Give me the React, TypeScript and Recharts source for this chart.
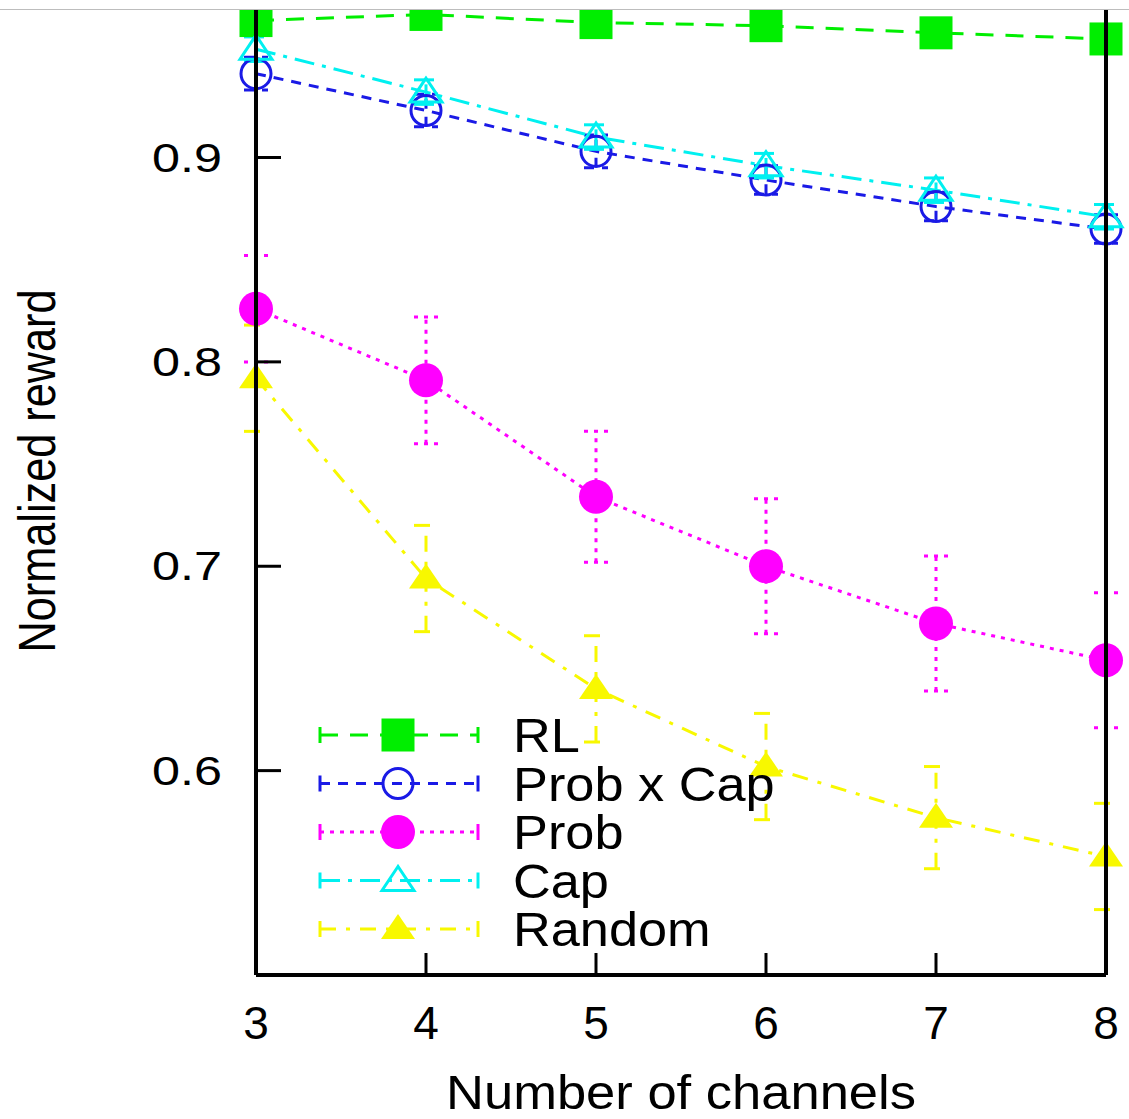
import { LineChart, Line, XAxis, YAxis, ErrorBar, Legend } from 'recharts'

const channels = [3, 4, 5, 6, 7, 8]

const rlValues = [0.967, 0.970, 0.966, 0.9645, 0.961, 0.958]
const rlErrors = [0.002, 0.002, 0.002, 0.002, 0.002, 0.002]

const probCapValues = [0.941, 0.923, 0.903, 0.889, 0.876, 0.865]
const probCapErrors = [0.008, 0.008, 0.008, 0.007, 0.007, 0.007]

const probValues = [0.826, 0.791, 0.734, 0.700, 0.672, 0.654]
const probErrors = [0.026, 0.031, 0.032, 0.033, 0.033, 0.033]

const capValues = [0.953, 0.932, 0.910, 0.896, 0.884, 0.871]
const capErrors = [0.006, 0.006, 0.006, 0.006, 0.006, 0.006]

const randomValues = [0.792, 0.694, 0.640, 0.602, 0.577, 0.558]
const randomErrors = [0.026, 0.026, 0.026, 0.026, 0.025, 0.026]

const yTicks = [0.6, 0.7, 0.8, 0.9]

const FONT = '"Liberation Sans", Arial, Helvetica, sans-serif'

type MarkerKind = 'square' | 'circleOpen' | 'circle' | 'triangleOpen' | 'triangle'

type SeriesStyle = {
  key: string
  name: string
  color: string
  dash: string
  errDash: string
  marker: MarkerKind
}

const series: SeriesStyle[] = [
  { key: 'rl', name: 'RL', color: '#00ee00', dash: '18 12', errDash: '8 6', marker: 'square' },
  { key: 'probCap', name: 'Prob x Cap', color: '#1a1ae6', dash: '10 8', errDash: '10 8', marker: 'circleOpen' },
  { key: 'prob', name: 'Prob', color: '#ff00ff', dash: '4 6', errDash: '4 6', marker: 'circle' },
  { key: 'cap', name: 'Cap', color: '#00f0f0', dash: '20 8 4 8', errDash: '20 8 4 8', marker: 'triangleOpen' },
  { key: 'random', name: 'Random', color: '#f8f800', dash: '16 10 4 10', errDash: '16 10 4 10', marker: 'triangle' },
]

const data = channels.map((c, i) => ({
  channels: c,
  rl: rlValues[i],
  rlErr: rlErrors[i],
  probCap: probCapValues[i],
  probCapErr: probCapErrors[i],
  prob: probValues[i],
  probErr: probErrors[i],
  cap: capValues[i],
  capErr: capErrors[i],
  random: randomValues[i],
  randomErr: randomErrors[i],
}))

const chartMargin = { top: 24, right: 0, bottom: 24, left: 0 }

function Marker({ kind, cx, cy, color }: { kind: MarkerKind; cx: number; cy: number; color: string }) {
  switch (kind) {
    case 'square':
      return <rect x={cx - 16.5} y={cy - 16.5} width={33} height={33} fill={color} />
    case 'circleOpen':
      return <circle cx={cx} cy={cy} r={15} fill='none' stroke={color} strokeWidth={3} />
    case 'circle':
      return <circle cx={cx} cy={cy} r={17} fill={color} />
    case 'triangleOpen':
      return (
        <polygon
          points={`${cx},${cy - 14} ${cx - 16},${cy + 10} ${cx + 16},${cy + 10}`}
          fill='none'
          stroke={color}
          strokeWidth={3}
        />
      )
    case 'triangle':
      return <polygon points={`${cx},${cy - 15} ${cx - 17},${cy + 10} ${cx + 17},${cy + 10}`} fill={color} />
  }
  return null
}

function YTick({ x, y, payload }: any) {
  return (
    <text
      x={x}
      y={y}
      textAnchor='end'
      dominantBaseline='central'
      fontSize={40}
      fontFamily={FONT}
      textLength={70}
      lengthAdjust='spacingAndGlyphs'
      fill='#000'
    >
      {Number(payload.value).toFixed(1)}
    </text>
  )
}

function XTick({ x, y, payload }: any) {
  return (
    <text x={x} y={y} textAnchor='middle' dominantBaseline='central' fontSize={46} fontFamily={FONT} fill='#000'>
      {payload.value}
    </text>
  )
}

function LegendBox({ payload }: any) {
  const order = (k: string) => series.findIndex((d) => d.key === k)
  const items = [...((payload || []) as any[])].sort((a, b) => order(a.dataKey) - order(b.dataKey))
  return (
    <svg width={520} height={260} style={{ display: 'block' }}>
      {items.map((item, i) => {
        const s = series.find((d) => d.key === item.dataKey) || series[i]
        const y = 30 + i * 48.5
        return (
          <g key={s.key}>
            <line x1={20} x2={178} y1={y} y2={y} stroke={s.color} strokeWidth={3} strokeDasharray={s.dash} />
            <line x1={20} x2={20} y1={y - 8} y2={y + 8} stroke={s.color} strokeWidth={3} />
            <line x1={178} x2={178} y1={y - 8} y2={y + 8} stroke={s.color} strokeWidth={3} />
            <Marker kind={s.marker} cx={98} cy={y} color={s.color} />
            <text
              x={0}
              y={0}
              transform={`translate(213 ${y + 17}) scale(1.09 1)`}
              fontSize={48}
              fontFamily={FONT}
              fill='#000'
            >
              {item.value}
            </text>
          </g>
        )
      })}
    </svg>
  )
}

// axes are drawn twice: once with labels under the data, once (frame and ticks only) over it
function axes(withText: boolean) {
  return [
    <XAxis
      key='xb'
      xAxisId='bottom'
      dataKey='channels'
      type='number'
      domain={[3, 8]}
      ticks={channels}
      height={120}
      tickSize={-22}
      tickMargin={70}
      tick={withText ? <XTick /> : false}
      axisLine={{ stroke: '#000', strokeWidth: 4 }}
      tickLine={{ stroke: '#000', strokeWidth: 3 }}
      label={
        withText
          ? {
              content: (props: any) => {
                const vb = props.viewBox || {}
                return (
                  <text
                    x={vb.x + vb.width / 2}
                    y={vb.y + 134}
                    textAnchor='middle'
                    fontSize={49}
                    fontFamily={FONT}
                    textLength={470}
                    lengthAdjust='spacingAndGlyphs'
                    fill='#000'
                  >
                    Number of channels
                  </text>
                )
              },
            }
          : undefined
      }
    />,
    <XAxis
      key='xt'
      xAxisId='top'
      orientation='top'
      dataKey='channels'
      type='number'
      domain={[3, 8]}
      ticks={channels}
      height={0}
      tickSize={-24}
      tick={false}
      axisLine={false}
      tickLine={{ stroke: '#000', strokeWidth: 3 }}
    />,
    <YAxis
      key='yl'
      yAxisId='left'
      type='number'
      domain={[0.5, 0.98]}
      ticks={yTicks}
      width={256}
      tickSize={-25}
      tickMargin={59}
      tick={withText ? <YTick /> : false}
      axisLine={{ stroke: '#000', strokeWidth: 4 }}
      tickLine={{ stroke: '#000', strokeWidth: 3 }}
      label={
        withText
          ? {
              content: (props: any) => {
                const vb = props.viewBox || {}
                const cy = vb.y + vb.height / 2 - 13.5
                return (
                  <text
                    x={55}
                    y={cy}
                    transform={`rotate(-90, 55, ${cy})`}
                    textAnchor='middle'
                    fontSize={52}
                    fontFamily={FONT}
                    textLength={363}
                    lengthAdjust='spacingAndGlyphs'
                    fill='#000'
                  >
                    Normalized reward
                  </text>
                )
              },
            }
          : undefined
      }
    />,
    <YAxis
      key='yr'
      yAxisId='right'
      orientation='right'
      type='number'
      domain={[0.5, 0.98]}
      ticks={yTicks}
      width={23}
      tickSize={-25}
      tick={false}
      axisLine={{ stroke: '#000', strokeWidth: 4 }}
      tickLine={{ stroke: '#000', strokeWidth: 3 }}
    />,
  ]
}

export default function App() {
  return (
    <div
      style={{
        position: 'absolute',
        left: 0,
        top: 0,
        width: 1129,
        height: 1119,
        overflow: 'hidden',
        background: '#fff',
      }}
    >
      <div style={{ position: 'absolute', left: 0, top: -30 }}>
        <LineChart width={1129} height={1149} data={data} margin={chartMargin}>
          {axes(true)}
          {series.map((s) => (
            <Line
              key={s.key}
              xAxisId='bottom'
              yAxisId='left'
              type='linear'
              dataKey={s.key}
              name={s.name}
              stroke={s.color}
              strokeWidth={3}
              strokeDasharray={s.dash}
              isAnimationActive={false}
              activeDot={false}
              dot={(p: any) => <Marker key={`${s.key}-${p.index}`} kind={s.marker} cx={p.cx} cy={p.cy} color={s.color} />}
            >
              <ErrorBar
                dataKey={`${s.key}Err`}
                direction='y'
                width={12}
                stroke={s.color}
                strokeWidth={3}
                strokeDasharray={s.errDash}
                isAnimationActive={false}
              />
            </Line>
          ))}
          <Legend
            layout='vertical'
            align='center'
            verticalAlign='middle'
            content={<LegendBox />}
            wrapperStyle={{ position: 'absolute', left: 300, top: 735, width: 520, height: 260 }}
          />
        </LineChart>
      </div>
      <div style={{ position: 'absolute', left: 0, top: -30, pointerEvents: 'none' }}>
        <LineChart width={1129} height={1149} data={data} margin={chartMargin}>
          {axes(false)}
        </LineChart>
      </div>
      <div
        style={{
          position: 'absolute',
          left: 0,
          top: 0,
          width: 1129,
          height: 9,
          background: '#fff',
          borderBottom: '1px solid #bdbdbd',
        }}
      />
    </div>
  )
}
